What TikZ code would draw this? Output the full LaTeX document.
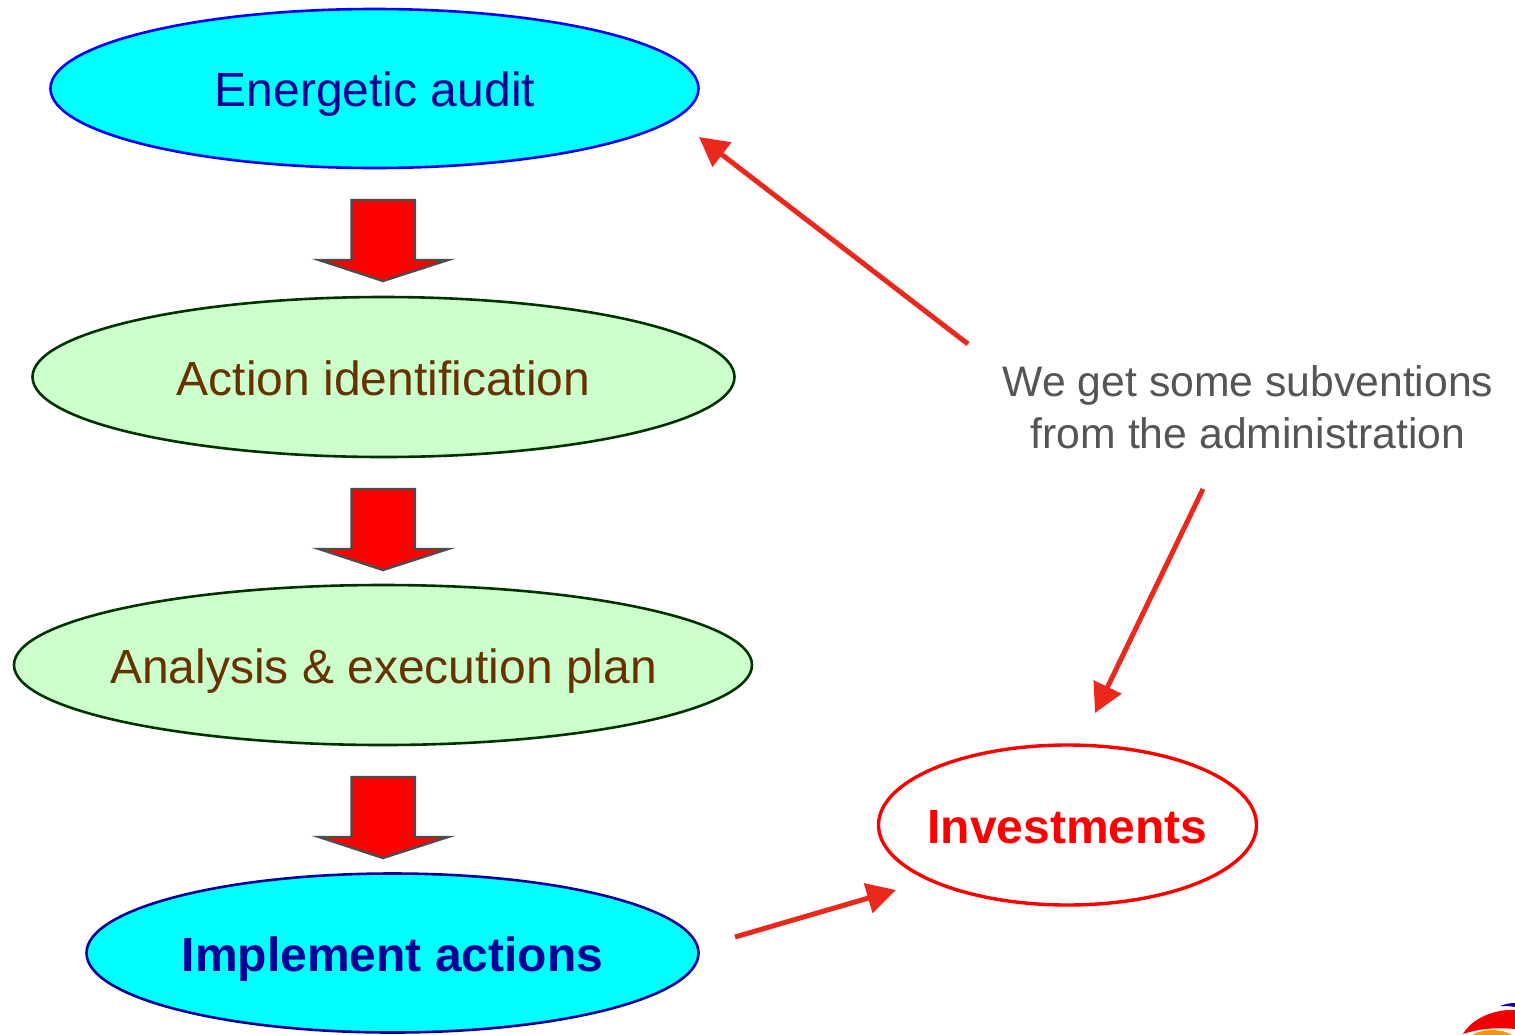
\documentclass[tikz,border=0pt]{standalone}
\usepackage{fontspec}
\setmainfont{Liberation Sans}
\usetikzlibrary{arrows.meta,shapes.geometric}
\definecolor{cyanfill}{RGB}{0,255,255}
\definecolor{greenfill}{RGB}{204,255,204}
\definecolor{darkgreen}{RGB}{0,51,0}
\definecolor{navy}{RGB}{0,0,153}
\definecolor{brown}{RGB}{102,51,0}
\definecolor{arrowred}{RGB}{234,41,28}
\definecolor{notegray}{RGB}{85,85,85}
\tikzset{
  x=1pt,y=-1pt,
  every node/.style={inner sep=0pt,outer sep=0pt},
  oval/.style={ellipse,line width=2.6pt,align=center},
  cyanoval/.style={oval,draw=#1,fill=cyanfill,text=navy},
  greenoval/.style={oval,draw=darkgreen,fill=greenfill,text=brown},
  blockarrow/.style={draw=black!70,line width=2.4pt,fill=red,line join=miter},
  redlink/.style={draw=arrowred,fill=arrowred,line width=5pt,-{Triangle[length=29pt,width=30pt]}},
  biglabel/.style={font=\fontsize{48}{52}\selectfont,anchor=base},
  boldlabel/.style={font=\bfseries\fontsize{48}{52}\selectfont,anchor=base},
}
\newcommand{\downblock}[1]{%
  \draw[blockarrow] (351.5,#1) -- (415,#1) -- (415,#1+60) -- (448,#1+60) -- (383,#1+81) -- (319,#1+60) -- (351.5,#1+60) -- cycle;}
\begin{document}
\begin{tikzpicture}
\useasboundingbox (0,0) rectangle (1515,1034);
\fill[white] (0,0) rectangle (1515,1034);
% ovals
\node[cyanoval=blue,minimum width=648pt,minimum height=159pt] (audit) at (374.5,88.5) {};
\node[greenoval,minimum width=702pt,minimum height=160pt] (action) at (383.5,377) {};
\node[greenoval,minimum width=738pt,minimum height=160pt] (plan) at (383,665) {};
\node[cyanoval=navy,minimum width=612pt,minimum height=159pt] (impl) at (392.5,953) {};
\node[oval,draw=red,fill=white,line width=3.4pt,minimum width=378pt,minimum height=160pt] (inv) at (1067.5,825) {};
% labels
\node[text=navy,biglabel] (t1) at (375,106) {Energetic audit};
\node[text=brown,biglabel] (t2) at (383.5,395) {Action identification};
\node[text=brown,biglabel] (t3) at (383.5,683) {Analysis \& execution plan};
\node[text=navy,boldlabel] (t4) at (392.5,971) {Implement actions};
\node[text=red,boldlabel] (t5) at (1067.5,843) {Investments};
\node[text=notegray,font=\fontsize{42.7}{52}\selectfont,align=center] (note) at (1248,407) {We get some subventions\\from the administration};
% block arrows
\downblock{200}
\downblock{489}
\downblock{777}
% free ends
\coordinate (n1) at (968,344);
\coordinate (e1) at (699,137);
\coordinate (n2) at (1203,489);
\coordinate (e2) at (1095,713);
\coordinate (s3) at (735,937);
\coordinate (e3) at (896,890);
\draw[redlink] (n1) -- (e1);
\draw[redlink] (n2) -- (e2);
\draw[redlink] (s3) -- (e3);
% logo corner
\begin{scope}
\clip (1440,990) rectangle (1515,1034);
\fill[orange!85!yellow] (1492,1044) ellipse (26 and 14);
\fill[red!95!black] (1463,1034) .. controls (1472,1018) and (1495,1009) .. (1515,1010) -- (1515,1029) .. controls (1495,1027) and (1478,1029) .. (1463,1034) -- cycle;
\fill[blue!70!black] (1500,1006) .. controls (1505,1004) and (1510,1003) .. (1515,1003) -- (1515,1007) .. controls (1510,1006) and (1505,1006) .. (1500,1006) -- cycle;
\end{scope}
\end{tikzpicture}
\end{document}
